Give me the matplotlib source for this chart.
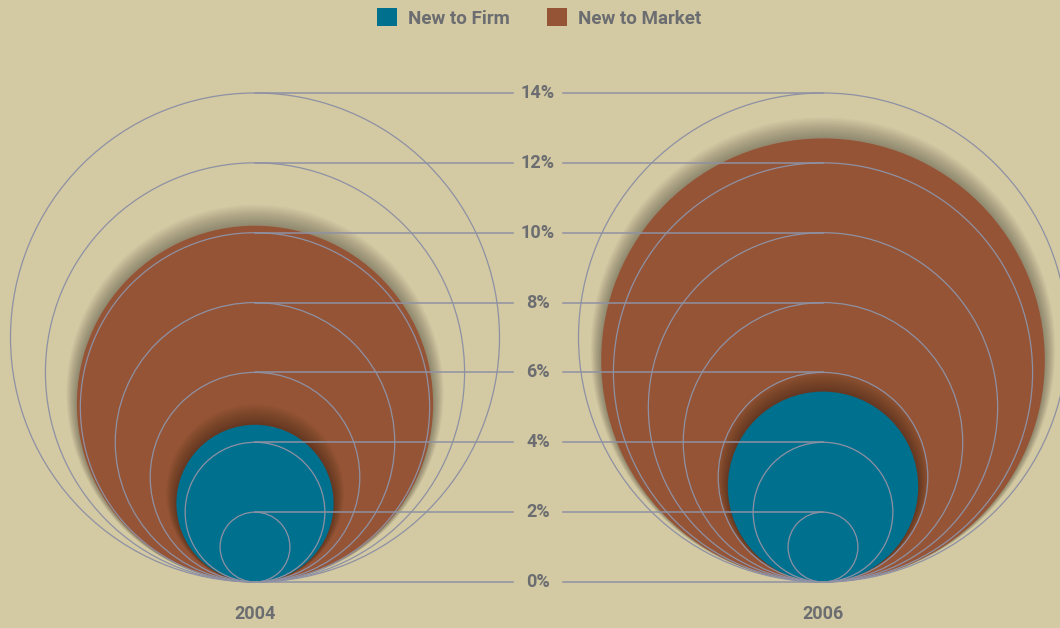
import matplotlib.pyplot as plt
from matplotlib.patches import Circle, Patch

years = ["2004", "2006"]
new_to_firm = [4.5, 5.45]
new_to_market = [10.2, 12.7]
ticks = [0, 2, 4, 6, 8, 10, 12, 14]
tick_labels = ["0%", "2%", "4%", "6%", "8%", "10%", "12%", "14%"]

BG = "#d3c9a3"
TEAL = "#00708f"
BROWN = "#965436"
GRID = "#8e91a3"
TEXT = "#6b6d70"

# layout in pixel space of the 1060x628 picture, converted to data units
px = 34.93
centers = [255 / px, 823 / px]
label_x = 538 / px
gap = 25 / px

plt.rcParams['font.family'] = ['Roboto', 'DejaVu Sans']

fig = plt.figure(figsize=(10.6, 6.28), dpi=100)
fig.patch.set_facecolor(BG)
ax = fig.add_axes([0, 0, 1, 1])
ax.set_facecolor(BG)
ax.set_xlim(0, 1060 / px)
ax.set_ylim(-(628 - 582) / px, 582 / px)
ax.axis("off")


def bubble(cx, v, color, z):
    r = v / 2
    # soft shadow growing up from the baseline
    n = 14
    for k in range(n, 0, -1):
        d = 0.3 * k / n
        ax.add_patch(Circle((cx, r + d), r + d, facecolor="black",
                            edgecolor="none", alpha=0.025, zorder=z))
    ax.add_patch(Circle((cx, r), r, facecolor=color, edgecolor="none",
                        zorder=z + 0.5))


for i, cx in enumerate(centers):
    bubble(cx, new_to_market[i], BROWN, 1)
    bubble(cx, new_to_firm[i], TEAL, 2)
    for v in ticks[1:]:
        ax.add_patch(Circle((cx, v / 2), v / 2, facecolor="none",
                            edgecolor=GRID, lw=0.9, zorder=5))
    ax.text(cx, -0.93, years[i], ha="center", va="center", fontsize=13,
            fontweight="bold", color=TEXT)

for v, lab in zip(ticks, tick_labels):
    ax.plot([centers[0], label_x - gap], [v, v], color=GRID, lw=1.1, zorder=5)
    ax.plot([label_x + gap, centers[1]], [v, v], color=GRID, lw=1.1, zorder=5)
    ax.text(label_x, v, lab, ha="center", va="center", fontsize=13,
            fontweight="bold", color=TEXT, zorder=6)

handles = [Patch(facecolor=TEAL, edgecolor="none", label="New to Firm"),
           Patch(facecolor=BROWN, edgecolor="none", label="New to Market")]
leg = fig.legend(handles=handles, loc="center", bbox_to_anchor=(539 / 1060, 1 - 18 / 628),
                 ncol=2, frameon=False, fontsize=13.5, handlelength=1.05,
                 handleheight=1.05, handletextpad=0.6, columnspacing=2.0)
for t in leg.get_texts():
    t.set_color(TEXT)
    t.set_fontweight("bold")

fig.savefig("out.png", dpi=100, facecolor=BG)
